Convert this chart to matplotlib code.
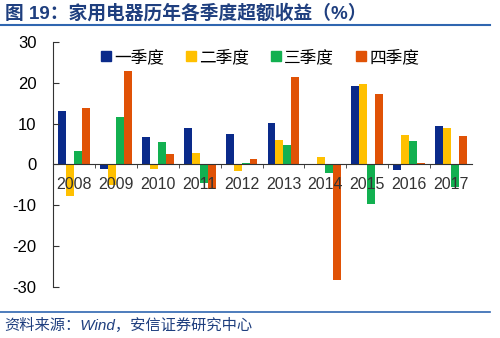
import matplotlib
matplotlib.use("Agg")
import matplotlib.pyplot as plt
from matplotlib.lines import Line2D
import numpy as np

plt.rcParams['font.family'] = ['Liberation Sans', 'Noto Sans CJK SC', 'DejaVu Sans']
plt.rcParams['axes.unicode_minus'] = False

years = ["2008", "2009", "2010", "2011", "2012", "2013", "2014", "2015", "2016", "2017"]
series_names = ["一季度", "二季度", "三季度", "四季度"]
q1 = [13.1, -1.1, 6.8, 8.8, 7.5, 10.1, 0.0, 19.3, -1.4, 9.3]
q2 = [-7.7, -5.1, -1.2, 2.9, -1.5, 6.0, 1.8, 19.7, 7.1, 8.9]
q3 = [3.3, 11.6, 5.6, -4.6, 0.3, 4.7, -2.0, -9.6, 5.7, -5.6]
q4 = [13.7, 22.8, 2.5, -6.0, 1.4, 21.4, -28.3, 17.3, 0.4, 6.9]
colors = ["#0A2A8A", "#FFC000", "#12B050", "#E05206"]

fig = plt.figure(figsize=(5.0, 3.38), dpi=100)
ax = fig.add_axes([0.106, 0.151, 0.838, 0.725])

x = np.arange(len(years))
w = 0.19
for i, (vals, c) in enumerate(zip([q1, q2, q3, q4], colors)):
    ax.bar(x + (i - 1.5) * w, vals, w, color=c, label=series_names[i], zorder=1)

ax.set_xlim(-0.5, len(years) - 0.5)
ax.set_ylim(-30, 30)
ax.set_yticks([-30, -20, -10, 0, 10, 20, 30])
ax.tick_params(axis='y', direction='in', length=4, labelsize=12, pad=12, color='#333333')

for s in ['top', 'right']:
    ax.spines[s].set_visible(False)
ax.spines['bottom'].set_position(('data', 0))
ax.spines['left'].set_color('#333333')
ax.spines['bottom'].set_color('#333333')

ax.set_xticks(x)
ax.set_xticklabels(years, fontsize=11.5, color='#333333')
ax.tick_params(axis='x', length=0, pad=9)
ax.set_xticks(np.arange(0.5, len(years) - 0.5, 1), minor=True)
ax.tick_params(axis='x', which='minor', direction='out', length=3, color='#333333')

handles = [Line2D([], [], marker='s', linestyle='', markersize=7, color=c) for c in colors]
ax.legend(handles, series_names, loc='upper center', bbox_to_anchor=(0.49, 1.03), ncol=4,
          frameon=False, fontsize=12, handletextpad=0.0, columnspacing=1.1,
          handlelength=1.0)

title_color = "#1F3F7F"
fig.text(0.01, 0.962, "图 19：家用电器历年各季度超额收益（%）", fontsize=13.5,
         fontweight='bold', color=title_color, va='center', ha='left')
fig.add_artist(Line2D([0.0, 0.98], [0.925, 0.925], color="#2F66B0", linewidth=1.5))
fig.add_artist(Line2D([0.0, 0.98], [0.077, 0.077], color="#2F66B0", linewidth=1.2))
fig.text(0.008, 0.038, "资料来源：Wind，安信证券研究中心", fontsize=11, style='italic',
         color=title_color, va='center', ha='left')

fig.savefig("out.png", dpi=100)
